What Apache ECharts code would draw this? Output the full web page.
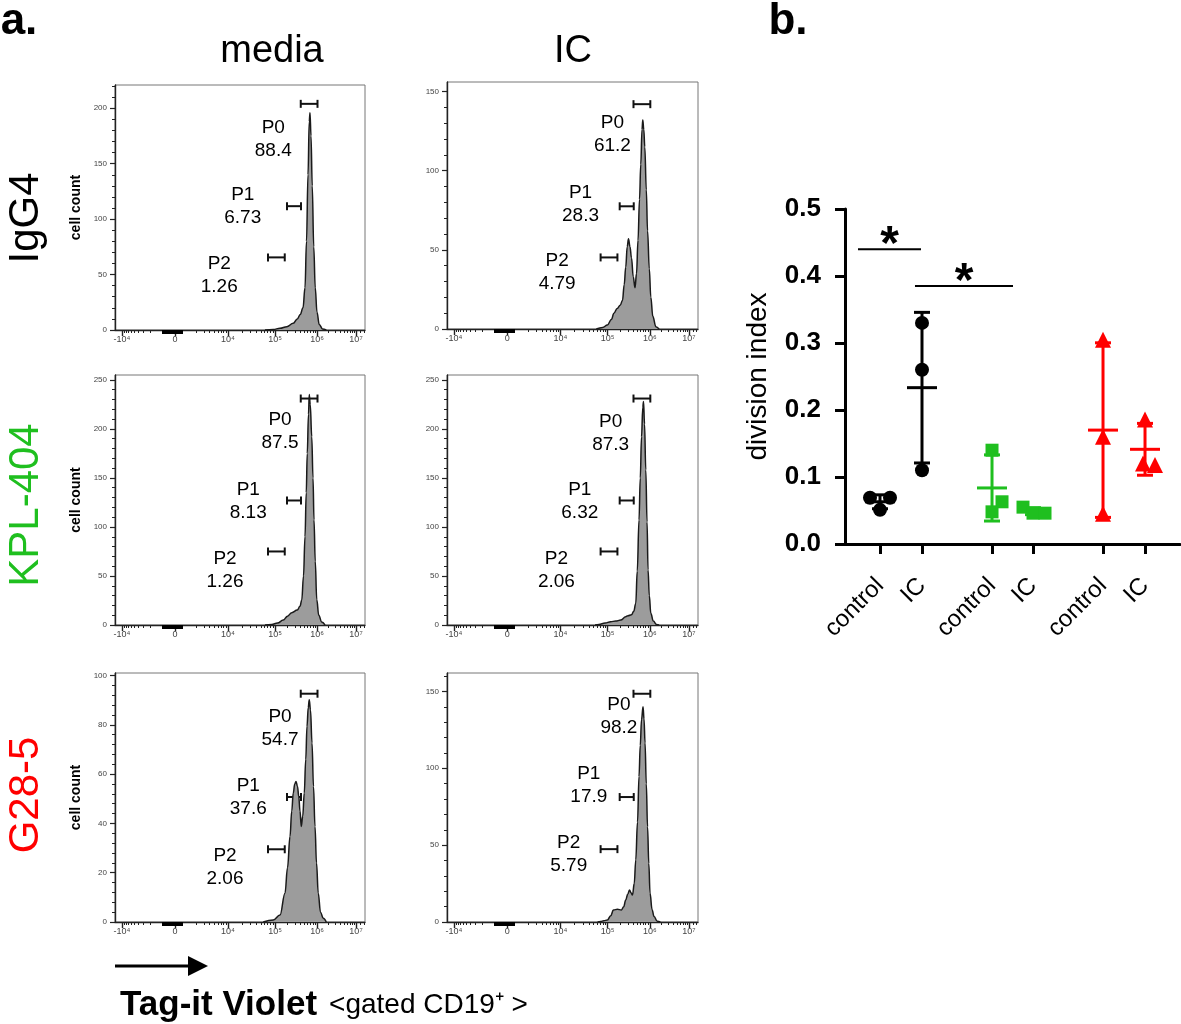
<!DOCTYPE html>
<html>
<head>
<meta charset="utf-8">
<script src="https://cdn.jsdelivr.net/npm/echarts@6/dist/echarts.min.js"></script>
<style>
  html, body { margin: 0; padding: 0; background: #fff; }
  #main { width: 1181px; height: 1024px; }
</style>
</head>
<body>
<div id="main"></div>
<script>
// ---------- data (a.) : histograms, x in display channel, y in cell count ----------
var rowNames = ['IgG4', 'KPL-404', 'G28-5'];
var colNames = ['media', 'IC'];
var xTickCh = [28, 240, 452, 640, 808, 964];
var xTickLabels = ['-10⁴', '0', '10⁴', '10⁵', '10⁶', '10⁷'];

var histIgG4Media = [[600,0],[633,0.5],[660,1.5],[687,3],[713,6],[729,10],[741,14],[752,20],[760,38],[766,80],[772,140],[777,188],[780,196],[784,175],[789,130],[795,75],[801,38],[808,16],[817,5],[830,1],[845,0]];
var histIgG4IC = [[595,0],[620,1],[639,2.5],[655,6],[665,10],[678,13],[690,15],[699,18],[706,28],[712,39],[718,52],[723,57],[729,52],[735,45],[742,33],[749,26],[755,35],[761,56],[767,82],[772,104],[777,126],[780,132],[784,126],[788,115],[794,88],[799,62],[806,38],[812,20],[820,8],[832,1.5],[845,0]];
var histKplMedia = [[600,0],[627,0.5],[650,2],[673,5],[690,9],[707,12.6],[729,15.3],[740,19],[747,25.5],[754,50],[760,90],[765,135],[769,175],[774,215],[777,235],[781,225],[787,192],[792,150],[796,107],[801,65],[807,26],[815,10],[827,3],[840,0]];
var histKplIC = [[590,0],[605,0.5],[630,2],[652,3.4],[672,4],[692,5],[712,8.5],[721,9.5],[735,10.5],[744,14],[752,22],[758,55],[765,107],[770,150],[775,192],[780,222],[783,228],[787,205],[792,158],[797,105],[801,56],[806,30],[812,12],[822,4],[835,0.5],[845,0]];
var histG28Media = [[593,0],[633,0.8],[660,2.8],[680,11.7],[690,22],[700,34.7],[707,45],[713,52.3],[719,56],[724,57],[730,55],[735,51],[740,45],[745,38.7],[751,43],[757,52.3],[763,66],[768,79.4],[773,87],[777,90.2],[782,86],[788,72.6],[794,55],[800,38.7],[806,24],[813,11.7],[822,4],[833,1.5],[845,0]];
var histG28IC = [[600,0],[612,0.3],[625,0.8],[639,1.3],[652,4],[663,7.8],[679,8.3],[695,7.8],[704,10],[712,14.3],[720,18],[727,20.9],[733,19],[739,17.6],[746,25],[752,40.4],[759,65],[765,94.7],[770,115],[775,131.7],[781,140],[785,132],[789,116.5],[794,90],[799,62],[804,38],[809,18.7],[817,8],[825,3.5],[838,0.5],[850,0]];

// gates P0, P1, P2 (channel range) and percentages per panel
var gateNames = ['P0', 'P1', 'P2'];
var gateRange = [[743, 810], [688, 744], [612, 679]];
var pctIgG4Media = ['88.4', '6.73', '1.26'];
var pctIgG4IC = ['61.2', '28.3', '4.79'];
var pctKplMedia = ['87.5', '8.13', '1.26'];
var pctKplIC = ['87.3', '6.32', '2.06'];
var pctG28Media = ['54.7', '37.6', '2.06'];
var pctG28IC = ['98.2', '17.9', '5.79'];

// ---------- data (b.) : division index ----------
var divCats = ['control', 'IC', 'control', 'IC', 'control', 'IC'];
var igg4Control = [0.069, 0.069, 0.051];
var igg4IC = [0.330, 0.260, 0.110];
var kplControl = [0.140, 0.048, 0.063];
var kplIC = [0.055, 0.046, 0.046];
var g28Control = [0.305, 0.160, 0.045];
var g28IC = [0.186, 0.120, 0.118];

// ---------- layout ----------
var FONT = '"Liberation Sans", Arial, Helvetica, sans-serif';
var GREEN = '#1fbf1f', RED = '#ff0000';
var hists = [histIgG4Media, histIgG4IC, histKplMedia, histKplIC, histG28Media, histG28IC];
var pcts = [pctIgG4Media, pctIgG4IC, pctKplMedia, pctKplIC, pctG28Media, pctG28IC];
var gridBox = [[115, 85, 250, 245], [447, 82, 251, 247], [115, 375, 250, 250], [447, 375, 251, 250], [115, 673, 250, 249], [447, 673, 251, 249]];
var yMaxes = [221, 156, 255, 255, 101, 162];
var ySteps = [50, 50, 50, 50, 20, 50];
var gateY = [[204, 111.7, 65.5], [142, 77.5, 45.2], [231, 127, 75], [231, 127, 75], [92.6, 50.7, 29.5], [148.5, 81.3, 47.4]];
var labelAt = [
  [[633, 172.5], [511, 111.7], [417, 49.1]],
  [[659, 122.9], [532, 78.8], [439, 35.6]],
  [[660, 197.2], [533, 126.5], [440, 56.1]],
  [[652, 195.6], [529, 126.5], [436, 56.1]],
  [[660, 78.4], [533, 50.6], [440, 22.2]],
  [[685, 133.9], [565, 88.7], [485, 44.3]]
];

function logTicks(a, b) {
  var r = [];
  for (var k = 2; k <= 9; k++) r.push(a + (b - a) * Math.log10(k));
  return r;
}
var minorCh = [];
for (var k = 2; k <= 9; k++) minorCh.push(188 - 160 * Math.log10(k));
minorCh = minorCh.concat(logTicks(268, 452), logTicks(452, 640), logTicks(640, 808), logTicks(808, 964), [980, 995]);
// dense linear ticks around zero (drawn as a thick block)
var zeroCh = [];
for (var c = 188; c <= 268; c += 2) zeroCh.push(c);

function range(step, max) {
  var r = [];
  for (var v = 0; v <= max + 1e-9; v += step) r.push(Math.round(v * 100) / 100);
  return r;
}

var grids = [], xAxes = [], yAxes = [], series = [];

function renderGate(params, api) {
  var a = api.coord([api.value(0), api.value(2)]);
  var b = api.coord([api.value(1), api.value(2)]);
  var st = { stroke: '#111', lineWidth: 2 };
  return {
    type: 'group', children: [
      { type: 'line', shape: { x1: a[0], y1: a[1], x2: b[0], y2: b[1] }, style: st },
      { type: 'line', shape: { x1: a[0], y1: a[1] - 4, x2: a[0], y2: a[1] + 4 }, style: st },
      { type: 'line', shape: { x1: b[0], y1: b[1] - 4, x2: b[0], y2: b[1] + 4 }, style: st }
    ]
  };
}

function gateTextSeries(i) {
  var texts = gateNames.map(function (n, j) { return n + '\n' + pcts[i][j]; });
  return {
    type: 'custom', xAxisIndex: 3 * i, yAxisIndex: 2 * i, silent: true,
    data: labelAt[i],
    renderItem: function (params, api) {
      var p = api.coord([api.value(0), api.value(1)]);
      return {
        type: 'text', x: p[0], y: p[1],
        style: {
          text: texts[params.dataIndex], fill: '#000', font: '19px ' + FONT,
          align: 'center', verticalAlign: 'middle', textAlign: 'center', textVerticalAlign: 'middle',
          lineHeight: 23
        }
      };
    }
  };
}

hists.forEach(function (h, i) {
  var g = gridBox[i];
  grids.push({ left: g[0], top: g[1], width: g[2], height: g[3], show: true, borderColor: '#777', borderWidth: 1 });
  xAxes.push({
    gridIndex: i, type: 'value', min: 0, max: 1000, position: 'bottom',
    axisLine: { lineStyle: { color: '#222', width: 1.4 } },
    axisTick: { customValues: xTickCh, length: 6, lineStyle: { color: '#222', width: 1.4 } },
    axisLabel: {
      customValues: xTickCh, fontSize: 9, color: '#444', margin: 5, fontFamily: FONT,
      formatter: function (v) { return xTickLabels[xTickCh.indexOf(v)]; }
    },
    splitLine: { show: false }
  });
  xAxes.push({
    gridIndex: i, type: 'value', min: 0, max: 1000, position: 'bottom',
    axisLine: { show: false },
    axisTick: { customValues: minorCh, length: 3, lineStyle: { color: '#222', width: 1 } },
    axisLabel: { show: false }, splitLine: { show: false }
  });
  xAxes.push({
    gridIndex: i, type: 'value', min: 0, max: 1000, position: 'bottom',
    axisLine: { show: false },
    axisTick: { customValues: zeroCh, length: 4, lineStyle: { color: '#000', width: 1 } },
    axisLabel: { show: false }, splitLine: { show: false }
  });
  var major = range(ySteps[i], yMaxes[i]);
  var minor = range(ySteps[i] / 5, yMaxes[i]);
  yAxes.push({
    gridIndex: i, type: 'value', min: 0, max: yMaxes[i], position: 'left',
    name: i % 2 === 0 ? 'cell count' : '', nameLocation: 'middle', nameGap: 32,
    nameTextStyle: { fontSize: 14, fontWeight: 'bold', color: '#000', fontFamily: FONT },
    axisLine: { show: true, lineStyle: { color: '#222', width: 1.4 } },
    axisTick: { customValues: major, length: 5, lineStyle: { color: '#222', width: 1.2 } },
    axisLabel: { customValues: major, fontSize: 8, color: '#444', margin: 8, fontFamily: FONT },
    splitLine: { show: false }
  });
  yAxes.push({
    gridIndex: i, type: 'value', min: 0, max: yMaxes[i], position: 'left',
    axisLine: { show: false },
    axisTick: { customValues: minor, length: 3, lineStyle: { color: '#222', width: 1 } },
    axisLabel: { show: false }, splitLine: { show: false }
  });
  series.push({
    type: 'line', xAxisIndex: 3 * i, yAxisIndex: 2 * i, data: h,
    smooth: 0.4, smoothMonotone: 'x', symbol: 'none', silent: true,
    lineStyle: { color: '#1a1a1a', width: 1.5 },
    areaStyle: { color: '#9c9c9c', opacity: 1 }
  });
  series.push({
    type: 'custom', xAxisIndex: 3 * i, yAxisIndex: 2 * i, renderItem: renderGate, silent: true,
    data: gateRange.map(function (r, j) { return [r[0], r[1], gateY[i][j]]; })
  });
  series.push(gateTextSeries(i));
});

// ---------- b. division index ----------
function mean(a) { return a.reduce(function (s, v) { return s + v; }, 0) / a.length; }
function sd(a) {
  var m = mean(a);
  return Math.sqrt(a.reduce(function (s, v) { return s + (v - m) * (v - m); }, 0) / (a.length - 1));
}
var divGroups = [igg4Control, igg4IC, kplControl, kplIC, g28Control, g28IC];
var xPos = [1, 2, 3.667, 4.643, 6.31, 7.31];
var groupColor = ['#000', '#000', GREEN, GREEN, RED, RED];
var groupSymbol = ['circle', 'circle', 'rect', 'rect', 'triangle', 'triangle'];
var groupSize = [14, 14, 13, 13, 16, 16];
var jitter = [[-10, 10, 0], [0, 0, 0], [0, 0, 10], [-10, 0, 12], [0, 0, 0], [0, -2, 10]];

var bi = hists.length;
grids.push({ left: 845, top: 209, width: 335, height: 335 });
xAxes.push({
  gridIndex: bi, type: 'value', min: 0.1667, max: 8.143,
  axisLine: { lineStyle: { color: '#000', width: 3 } },
  axisTick: { customValues: xPos, length: 10, lineStyle: { color: '#000', width: 3 } },
  axisLabel: {
    customValues: xPos, rotate: 45, fontSize: 24, color: '#000', margin: 38, fontFamily: FONT,
    formatter: function (v) {
      var best = 0;
      xPos.forEach(function (p, j) { if (Math.abs(p - v) < Math.abs(xPos[best] - v)) best = j; });
      return divCats[best];
    }
  },
  splitLine: { show: false }
});
yAxes.push({
  gridIndex: bi, type: 'value', min: 0, max: 0.5, interval: 0.1,
  name: 'division index', nameLocation: 'middle', nameGap: 73,
  nameTextStyle: { fontSize: 28, color: '#000', fontFamily: FONT },
  axisLine: { show: true, lineStyle: { color: '#000', width: 3 } },
  axisTick: { length: 10, lineStyle: { color: '#000', width: 3 } },
  axisLabel: {
    fontSize: 26, fontWeight: 'bold', color: '#000', margin: 24, fontFamily: FONT,
    formatter: function (v) { return v.toFixed(1); }
  },
  splitLine: { show: false }
});
var bx = xAxes.length - 1, by = yAxes.length - 1;

divGroups.forEach(function (vals, gi) {
  series.push({
    type: 'scatter', xAxisIndex: bx, yAxisIndex: by, silent: true,
    symbol: groupSymbol[gi], symbolSize: groupSize[gi],
    itemStyle: { color: groupColor[gi], opacity: 1 },
    data: vals.map(function (v, j) { return { value: [xPos[gi], v], symbolOffset: [jitter[gi][j], 0] }; })
  });
});

series.push({
  type: 'custom', xAxisIndex: bx, yAxisIndex: by, silent: true,
  data: divGroups.map(function (vals, gi) { return [xPos[gi], mean(vals), sd(vals), gi]; }),
  renderItem: function (params, api) {
    var x = api.value(0), m = api.value(1), s = api.value(2);
    var col = groupColor[api.value(3)];
    var t = api.coord([x, m + s]), b = api.coord([x, m - s]), c = api.coord([x, m]);
    var st = { stroke: col, lineWidth: 3 };
    return {
      type: 'group', children: [
        { type: 'line', shape: { x1: t[0], y1: t[1], x2: b[0], y2: b[1] }, style: st },
        { type: 'line', shape: { x1: t[0] - 8, y1: t[1], x2: t[0] + 8, y2: t[1] }, style: st },
        { type: 'line', shape: { x1: b[0] - 8, y1: b[1], x2: b[0] + 8, y2: b[1] }, style: st },
        { type: 'line', shape: { x1: c[0] - 15, y1: c[1], x2: c[0] + 15, y2: c[1] }, style: st }
      ]
    };
  }
});

// significance bars
var sigBars = [[0.476, 1.976, 0.440], [1.833, 4.167, 0.385]];
series.push({
  type: 'custom', xAxisIndex: bx, yAxisIndex: by, silent: true, data: sigBars,
  renderItem: function (params, api) {
    var a = api.coord([api.value(0), api.value(2)]);
    var b = api.coord([api.value(1), api.value(2)]);
    return {
      type: 'group', children: [
        { type: 'line', shape: { x1: a[0], y1: a[1], x2: b[0], y2: b[1] }, style: { stroke: '#000', lineWidth: 2 } },
        {
          type: 'text', x: (a[0] + b[0]) / 2, y: a[1] - 3,
          style: {
            text: '*', font: 'bold 48px ' + FONT, fill: '#000',
            align: 'center', verticalAlign: 'middle', textAlign: 'center', textVerticalAlign: 'middle'
          }
        }
      ]
    };
  }
});

function txt(x, y, text, font, color, rot) {
  return {
    type: 'text', x: x, y: y, rotation: rot || 0,
    style: {
      text: text, font: font, fill: color || '#000',
      align: 'center', verticalAlign: 'middle', textAlign: 'center', textVerticalAlign: 'middle'
    }
  };
}

var graphics = [
  txt(19, 22, 'a.', 'bold 44px ' + FONT),
  txt(788, 22, 'b.', 'bold 44px ' + FONT),
  txt(272, 52, colNames[0], '38px ' + FONT),
  txt(573, 52, colNames[1], '38px ' + FONT),
  txt(26, 218, rowNames[0], '42px ' + FONT, '#000', Math.PI / 2),
  txt(26, 505, rowNames[1], '42px ' + FONT, GREEN, Math.PI / 2),
  txt(26, 795, rowNames[2], '42px ' + FONT, RED, Math.PI / 2),
  { type: 'line', shape: { x1: 115, y1: 966, x2: 192, y2: 966 }, style: { stroke: '#000', lineWidth: 3 } },
  { type: 'polygon', shape: { points: [[188, 956], [208, 966], [188, 976]] }, style: { fill: '#000' } },
  {
    type: 'text', x: 120, y: 1005,
    style: {
      text: '{b|Tag-it Violet}{n|<gated CD19⁺ >}',
      verticalAlign: 'middle', textVerticalAlign: 'middle',
      rich: {
        b: { fontSize: 35, fontWeight: 'bold', fontFamily: FONT, fill: '#000' },
        n: { fontSize: 28, fontFamily: FONT, fill: '#000', padding: [0, 0, 0, 12] }
      }
    }
  }
];

var chart = echarts.init(document.getElementById('main'));
chart.setOption({
  backgroundColor: '#fff',
  animation: false,
  grid: grids,
  xAxis: xAxes,
  yAxis: yAxes,
  series: series,
  graphic: graphics
});
</script>
</body>
</html>
